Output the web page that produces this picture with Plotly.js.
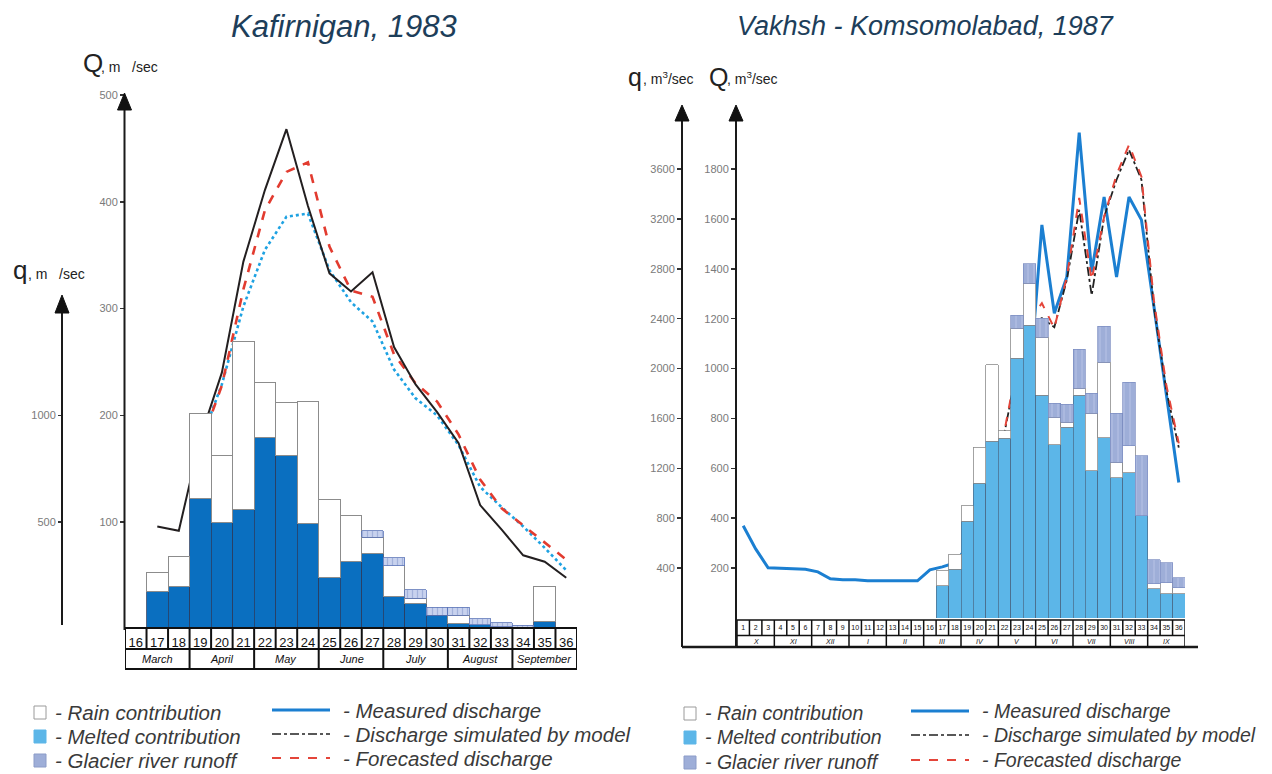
<!DOCTYPE html>
<html><head><meta charset="utf-8">
<script src="https://cdn.plot.ly/plotly-3.0.1.min.js"></script>
<style>html,body{margin:0;padding:0;background:#fff}#chart{width:1272px;height:774px}</style>
</head><body><div id="chart"></div>
<script>
// ---------- Kafirnigan, 1983 (decades 16..36) ----------
const decL = [16,17,18,19,20,21,22,23,24,25,26,27,28,29,30,31,32,33,34,35,36];
const monthsL = ['March','April','May','June','July','August','September'];
// contributions q, m3/sec
const meltL    = [0,175,200,610,500,560,895,810,495,240,315,355,150,120,65,25,20,10,3,35,0];
const rainL    = [0,90,140,400,310,785,260,250,570,365,215,75,145,25,0,40,0,0,0,165,0];
const glacierL = [0,0,0,0,0,0,0,0,0,0,0,30,38,38,38,38,28,20,15,0,0];
// discharge Q, m3/sec
const measuredL  = [null,96,92,179,240,344,411,468,396,333,316,334,264,229,203,174,116,93,69,63,48];
const forecastL  = [null,null,null,172,228,318,392,428,437,358,317,311,257,230,213,182,140,113,97,81,65];
const simulatedL = [null,null,null,175,229,302,355,386,389,336,306,288,243,216,200,172,133,114,96,76,55];
const qTicksL = [500,1000];
const QTicksL = [100,200,300,400,500];

// ---------- Vakhsh - Komsomolabad, 1987 (decades 1..36) ----------
const decR = [1,2,3,4,5,6,7,8,9,10,11,12,13,14,15,16,17,18,19,20,21,22,23,24,25,26,27,28,29,30,31,32,33,34,35,36];
const monthsR = ['X','XI','XII','I','II','III','IV','V','VI','VII','VIII','IX'];
const barDecR  = [17,18,19,20,21,22,23,24,25,26,27,28,29,30,31,32,33,34,35,36];
const meltR    = [257,392,774,1080,1417,1440,2082,2348,1785,1391,1528,1785,1182,1447,1126,1166,820,233,193,193];
const rainR    = [127,120,126,289,615,60,242,338,466,217,40,56,458,603,121,217,0,40,88,48];
const glacierR = [0,0,0,0,0,0,104,153,153,113,145,314,161,289,394,507,482,193,161,80];
const measuredR = [370,277,201,199,197,195,185,157,153,153,149,149,149,149,149,193,205,221,285,342,643,599,752,933,1576,1222,1367,1946,1387,1688,1367,1688,1596,1250,890,543];
const modelDecR = [19,20,21,22,23,24,25,26,27,28,29,30,31,32,33,34,35,36];
const simulatedR = [310,438,583,744,1001,1174,1202,1166,1355,1636,1294,1608,1757,1877,1757,1246,912,683];
const forecastR  = [289,450,591,752,1013,1194,1262,1162,1367,1684,1355,1608,1777,1897,1769,1274,933,700];
const qTicksR = [400,800,1200,1600,2000,2400,2800,3200,3600];
const QTicksR = [200,400,600,800,1000,1200,1400,1600,1800];

// ---------- helpers ----------
const W = 1272, H = 774;
const PX = v => v / W, PY = v => 1 - v / H;
const nz = a => a.map(v => (v ? v : null));
const FONT = 'Liberation Sans, Arial, Helvetica, sans-serif';
const TICKC = '#7a7a7a';

const LBLUE = '#5cb6e8', DBLUE = '#0a6fc0', GLAC = '#9eaed8';

const traces = [
  // left bars (q axis)
  {type:'bar', x:decL, y:nz(meltL), xaxis:'x', yaxis:'y2', width:1,
   marker:{color:DBLUE, line:{color:'#2b3f63', width:0.8}}},
  {type:'bar', x:decL, y:nz(rainL), xaxis:'x', yaxis:'y2', width:1,
   marker:{color:'#ffffff', line:{color:'#8c8c8c', width:1}}},
  {type:'bar', x:decL, y:nz(glacierL), xaxis:'x', yaxis:'y2', width:1,
   marker:{color:'#c5cfec', pattern:{shape:'|', fillmode:'overlay', bgcolor:'#c8d2ee', fgcolor:'#7d91c8', size:5, solidity:0.25}, line:{color:'#5d76b8', width:0.8}}},
  // left lines (Q axis)
  {type:'scatter', mode:'lines', x:decL, y:simulatedL, xaxis:'x', yaxis:'y',
   line:{color:'#1ea2e2', width:2.6, dash:'dot'}},
  {type:'scatter', mode:'lines', x:decL, y:forecastL, xaxis:'x', yaxis:'y',
   line:{color:'#e23b2f', width:2.6, dash:'dash'}},
  {type:'scatter', mode:'lines', x:decL, y:measuredL, xaxis:'x', yaxis:'y',
   line:{color:'#231f20', width:2}},
  // right bars (q axis)
  {type:'bar', x:barDecR, y:nz(meltR), xaxis:'x2', yaxis:'y4', width:1,
   marker:{color:LBLUE, line:{color:'#4a6a88', width:0.7}}},
  {type:'bar', x:barDecR, y:nz(rainR), xaxis:'x2', yaxis:'y4', width:1,
   marker:{color:'#ffffff', line:{color:'#8c8c8c', width:0.8}}},
  {type:'bar', x:barDecR, y:nz(glacierR), xaxis:'x2', yaxis:'y4', width:1,
   marker:{color:GLAC, pattern:{shape:'|', fillmode:'overlay', bgcolor:GLAC, fgcolor:'#c9d2ee', size:6, solidity:0.2}, line:{color:'#7a8cc0', width:0.7}}},
  // right lines (Q axis)
  {type:'scatter', mode:'lines', x:decR, y:measuredR, xaxis:'x2', yaxis:'y3',
   line:{color:'#1b7fd1', width:3}},
  {type:'scatter', mode:'lines', x:modelDecR, y:simulatedR, xaxis:'x2', yaxis:'y3',
   line:{color:'#222222', width:1.8, dash:'dashdot'}},
  {type:'scatter', mode:'lines', x:modelDecR, y:forecastR, xaxis:'x2', yaxis:'y3',
   line:{color:'#e4453a', width:2, dash:'dash'}}
];

// ---------- shapes ----------
const shapes = [];
const L = (x0,y0,x1,y1,o={}) => shapes.push(Object.assign({type:'line', xref:'paper', yref:'paper', x0:PX(x0), y0:PY(y0), x1:PX(x1), y1:PY(y1), line:{color:'#1a1a1a', width:2}}, o));
const TRI = (tx,ty,hw,h) => shapes.push({type:'path', xref:'paper', yref:'paper',
  path:`M ${PX(tx-hw)},${PY(ty+h)} L ${PX(tx)},${PY(ty)} L ${PX(tx+hw)},${PY(ty+h)} Z`,
  fillcolor:'#111', line:{color:'#111', width:1}});
// left axes
L(62,625,62,305); TRI(62,295,7,18);
L(124.5,630,124.5,105); TRI(124.5,93,7,17);
// right axes
L(682,647,682,115); TRI(682,105,7,16);
L(736,647,736,115); TRI(736,105,7,16);
L(682,647,1198,647,{line:{color:'#1a1a1a', width:2.5}});

// left table
const tblL = {xref:'x', yref:'paper', line:{color:'#111', width:2}};
shapes.push(Object.assign({type:'rect', x0:decL[0]-0.5, x1:decL[decL.length-1]+0.5, y0:PY(628), y1:PY(669)}, tblL));
shapes.push(Object.assign({type:'line', x0:decL[0]-0.5, x1:decL[decL.length-1]+0.5, y0:PY(649), y1:PY(649)}, tblL));
decL.slice(0,-1).forEach(d => shapes.push(Object.assign({type:'line', x0:d+0.5, x1:d+0.5, y0:PY(628), y1:PY(649)}, tblL)));
monthsL.slice(0,-1).forEach((m,i) => { const b = decL[0] + 3*(i+1) - 0.5;
  shapes.push(Object.assign({type:'line', x0:b, x1:b, y0:PY(649), y1:PY(669)}, tblL)); });
// right table
const tblR = {xref:'x2', yref:'paper', line:{color:'#111', width:1.5}};
shapes.push(Object.assign({type:'rect', x0:0.5, x1:36.5, y0:PY(620), y1:PY(647)}, tblR));
shapes.push(Object.assign({type:'line', x0:0.5, x1:36.5, y0:PY(635.5), y1:PY(635.5)}, tblR));
decR.slice(0,-1).forEach(d => shapes.push(Object.assign({type:'line', x0:d+0.5, x1:d+0.5, y0:PY(620), y1:PY(635.5)}, tblR)));
monthsR.slice(0,-1).forEach((m,i) => { const b = 3*(i+1) + 0.5;
  shapes.push(Object.assign({type:'line', x0:b, x1:b, y0:PY(635.5), y1:PY(647)}, tblR)); });

// ---------- annotations ----------
const ann = [];
const A = (text, x, y, o={}) => ann.push(Object.assign({text, x:PX(x), y:PY(y), xref:'paper', yref:'paper', showarrow:false, xanchor:'left', yanchor:'middle', font:{family:FONT, size:12, color:'#222'}}, o));
// titles
A('<i>Kafirnigan, 1983</i>', 344, 26, {xanchor:'center', font:{family:FONT, size:31, color:'#1d3e5a'}});
A('<i>Vakhsh - Komsomolabad, 1987</i>', 925, 26, {xanchor:'center', font:{family:FONT, size:27, color:'#1d3e5a'}});
// axis unit labels
A('Q', 81, 63, {font:{family:FONT, size:26, color:'#222'}});
A(', m   /sec', 99, 67, {font:{family:FONT, size:14, color:'#222'}});
A('q', 11, 270, {font:{family:FONT, size:26, color:'#222'}});
A(', m   /sec', 26, 274, {font:{family:FONT, size:14, color:'#222'}});
A('q', 626, 77, {font:{family:FONT, size:25, color:'#222'}});
A(', m<sup>3</sup>/sec', 641, 78, {font:{family:FONT, size:14, color:'#222'}});
A('Q', 707, 77, {font:{family:FONT, size:25, color:'#222'}});
A(', m<sup>3</sup>/sec', 725, 78, {font:{family:FONT, size:14, color:'#222'}});
// month rows
monthsL.forEach((m,i) => ann.push({text:'<i>'+m+'</i>', x:decL[0]+3*i+1, y:PY(659), xref:'x', yref:'paper', xanchor:'center', yanchor:'middle', showarrow:false, font:{family:FONT, size:11, color:'#111'}}));
monthsR.forEach((m,i) => ann.push({text:'<i>'+m+'</i>', x:3*i+2, y:PY(641.5), xref:'x2', yref:'paper', xanchor:'center', yanchor:'middle', showarrow:false, font:{family:FONT, size:7, color:'#111'}}));

// legends
function legend(x0, lineX0, rows, fs) {
  const sw = [['#ffffff','#9a9a9a'],[LBLUE,LBLUE],[GLAC,'#8c9cc8']];
  const labs = ['- Rain contribution','- Melted contribution','- Glacier river runoff'];
  const lines = [{color:'#1b7fd1', width:3, dash:'solid'},{color:'#222', width:1.6, dash:'dashdot'},{color:'#e4453a', width:2, dash:'dash'}];
  const labs2 = ['- Measured discharge','- Discharge simulated by model','- Forecasted discharge'];
  rows.forEach((ry,i) => {
    shapes.push({type:'rect', xref:'paper', yref:'paper', x0:PX(x0), x1:PX(x0+12), y0:PY(ry-6), y1:PY(ry+7), fillcolor:sw[i][0], line:{color:sw[i][1], width:1}});
    A('<i>'+labs[i]+'</i>', x0+19, ry, {font:{family:FONT, size:fs, color:'#3a3a3a'}});
    L(lineX0, ry-2, lineX0+58, ry-2, {line:lines[i]});
    A('<i>'+labs2[i]+'</i>', lineX0+69, ry-2, {font:{family:FONT, size:fs, color:'#3a3a3a'}});
  });
}
legend(34, 272, [712,736,760], 20.5);
legend(684, 911, [713,737,762], 19.5);

// ---------- layout ----------
const yQL = [0, 500], yQR = [0, 2056.6];
const layout = {
  width:W, height:H, margin:{l:0,r:0,t:0,b:0}, paper_bgcolor:'#fff', plot_bgcolor:'rgba(0,0,0,0)',
  showlegend:false, barmode:'stack', bargap:0,
  font:{family:FONT},
  xaxis:{domain:[PX(125),PX(577)], range:[decL[0]-0.5, decL[decL.length-1]+0.5], anchor:'y',
    tickvals:decL, ticktext:decL.map(String), ticks:'outside', ticklen:1, tickcolor:'rgba(0,0,0,0)',
    tickfont:{family:FONT, size:13, color:'#111'}, showgrid:false, zeroline:false, showline:false, fixedrange:true},
  yaxis:{domain:[PY(629),PY(95)], range:yQL, anchor:'x', tickvals:QTicksL, ticks:'outside', ticklen:4, tickwidth:1.5, tickcolor:'#333',
    tickfont:{family:FONT, size:11, color:TICKC}, showgrid:false, zeroline:false, showline:false},
  yaxis2:{overlaying:'y', anchor:'free', position:PX(62), side:'left', range:[yQL[0]*5, yQL[1]*5], tickvals:qTicksL,
    ticks:'outside', ticklen:4, tickwidth:1.5, tickcolor:'#333', tickfont:{family:FONT, size:11, color:TICKC},
    showgrid:false, zeroline:false, showline:false},
  xaxis2:{domain:[PX(737),PX(1185)], range:[0.5, 36.5], anchor:'y3',
    tickvals:decR, ticktext:decR.map(String), ticks:'outside', ticklen:3, tickcolor:'rgba(0,0,0,0)',
    tickfont:{family:FONT, size:7, color:'#111'}, tickangle:0, showgrid:false, zeroline:false, showline:false},
  yaxis3:{domain:[PY(618),PY(105)], range:yQR, anchor:'x2', tickvals:QTicksR, ticks:'outside', ticklen:5, tickwidth:1.5, tickcolor:'#333',
    tickfont:{family:FONT, size:11, color:TICKC}, showgrid:false, zeroline:false, showline:false},
  yaxis4:{overlaying:'y3', anchor:'free', position:PX(682), side:'left', range:[yQR[0]*2, yQR[1]*2], tickvals:qTicksR,
    ticks:'outside', ticklen:5, tickwidth:1.5, tickcolor:'#333', tickfont:{family:FONT, size:11, color:TICKC},
    showgrid:false, zeroline:false, showline:false},
  shapes, annotations:ann
};
Plotly.newPlot('chart', traces, layout, {staticPlot:true, displayModeBar:false});
</script></body></html>
